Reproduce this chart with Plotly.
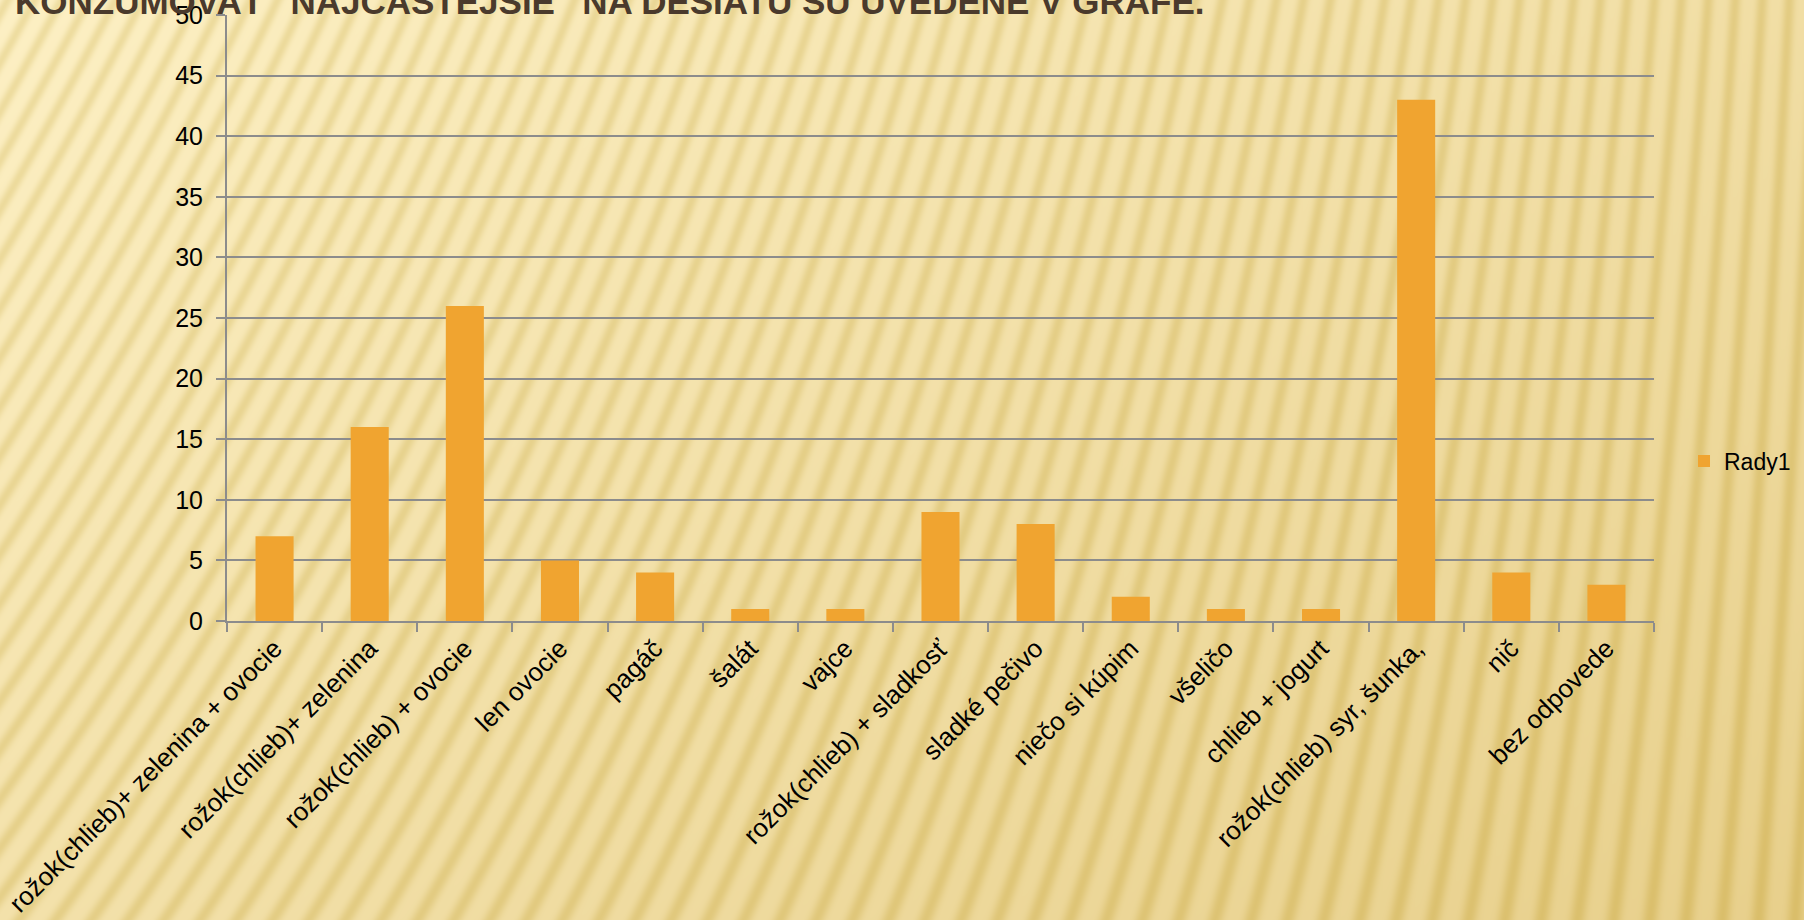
import base64
import struct
import zlib

import numpy as np
import plotly.graph_objects as go

# Données du graphique
categories = [
    "rožok(chlieb)+ zelenina + ovocie",
    "rožok(chlieb)+ zelenina",
    "rožok(chlieb) + ovocie",
    "len ovocie",
    "pagáč",
    "šalát",
    "vajce",
    "rožok(chlieb) + sladkosť",
    "sladké pečivo",
    "niečo si kúpim",
    "všeličo",
    "chlieb + jogurt",
    "rožok(chlieb) syr, šunka,",
    "nič",
    "bez odpovede",
]
values = [7, 16, 26, 5, 4, 1, 1, 9, 8, 2, 1, 1, 43, 4, 3]
series_name = "Rady1"
y_ticks = [0, 5, 10, 15, 20, 25, 30, 35, 40, 45, 50]
title_text = "KONZUMOVAŤ “NAJČASTEJŠIE” NA DESIATU SÚ UVEDENÉ V GRAFE."

W, H = 1804, 920
BAR = "#F0A430"
GRID = "#8C8C8C"


def background_png(w, h):
    # fond crème avec dégradé et rayures diagonales
    y, x = np.mgrid[0:h, 0:w].astype(float)
    t = np.clip(0.55 * x / w + 0.45 * y / h, 0, 1)
    light = np.array([253, 240, 196]) * (1 - t[..., None]) + np.array([232, 208, 140]) * t[..., None]
    slope = 0.5 * (1 - x / w) + 0.05
    phase = (x + slope * y) / 27.0
    stripe = (0.5 + 0.5 * np.sin(2 * np.pi * phase)) ** 2
    img = light - stripe[..., None] * np.array([14, 18, 34])
    img = np.clip(img, 0, 255).astype(np.uint8)
    raw = b"".join(b"\x00" + img[r].tobytes() for r in range(h))

    def chunk(tag, data):
        c = struct.pack(">I", len(data)) + tag + data
        return c + struct.pack(">I", zlib.crc32(tag + data) & 0xFFFFFFFF)

    png = b"\x89PNG\r\n\x1a\n"
    png += chunk(b"IHDR", struct.pack(">IIBBBBB", w, h, 8, 2, 0, 0, 0))
    png += chunk(b"IDAT", zlib.compress(raw, 6))
    png += chunk(b"IEND", b"")
    return "data:image/png;base64," + base64.b64encode(png).decode()


fig = go.Figure()
fig.add_trace(go.Bar(
    x=categories,
    y=values,
    name=series_name,
    marker=dict(color=BAR, line=dict(width=0)),
    showlegend=True,
))

left, right, top, bottom = 227, 150, 15, 299
plot_w = W - left - right
plot_h = H - top - bottom

fig.update_layout(
    width=W,
    height=H,
    margin=dict(l=left, r=right, t=top, b=bottom, autoexpand=False),
    paper_bgcolor="#F6E4A8",
    plot_bgcolor="rgba(0,0,0,0)",
    bargap=0.6,
    font=dict(family="Liberation Sans, Arial, sans-serif", size=25, color="#000000"),
    showlegend=True,
    legend=dict(
        xref="container", yref="container",
        x=1684 / W, y=1 - 461 / H,
        xanchor="left", yanchor="middle",
        bgcolor="rgba(0,0,0,0)",
        font=dict(size=23),
        itemwidth=30,
    ),
    images=[dict(
        source=background_png(W, H),
        xref="paper", yref="paper",
        x=-left / plot_w, y=1 + top / plot_h,
        sizex=W / plot_w, sizey=H / plot_h,
        sizing="stretch", layer="below",
        xanchor="left", yanchor="top",
    )],
    annotations=[dict(
        text="<b>" + title_text + "</b>",
        xref="paper", yref="paper",
        x=-(left - 13) / plot_w, y=1 + (top - 23) / plot_h,
        xanchor="left", yanchor="bottom",
        showarrow=False,
        font=dict(family="Liberation Sans, Arial, sans-serif", size=35, color="#4A3A2C"),
    )],
)

fig.update_xaxes(
    type="category",
    tickangle=-45,
    tickson="boundaries",
    ticks="outside",
    ticklen=9,
    tickwidth=2,
    tickcolor=GRID,
    showline=True,
    linecolor=GRID,
    linewidth=2,
    showgrid=False,
    automargin=False,
    tickfont=dict(size=26),
)
fig.update_yaxes(
    range=[0, 50],
    tickvals=y_ticks,
    ticks="outside",
    ticklen=9,
    tickwidth=2,
    tickcolor=GRID,
    showline=True,
    linecolor=GRID,
    linewidth=2,
    showgrid=True,
    gridcolor=GRID,
    gridwidth=2,
    zeroline=False,
    automargin=False,
    ticklabelstandoff=8,
    tickfont=dict(size=25),
)

fig.write_html(
    "out.html",
    config=dict(displayModeBar=False),
    post_script="document.body.style.margin='0';document.body.style.overflow='hidden';",
)
